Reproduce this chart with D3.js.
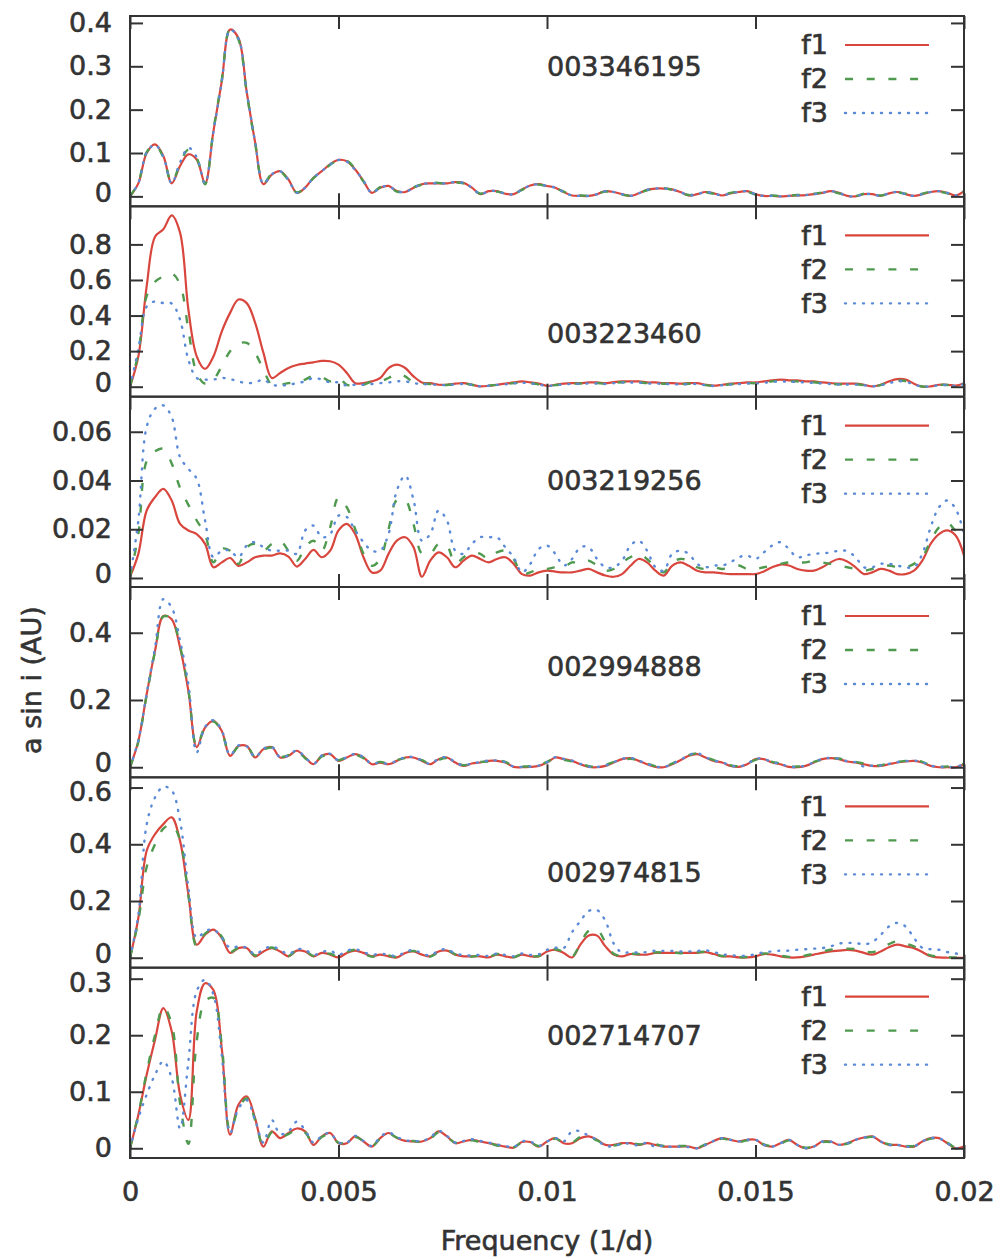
<!DOCTYPE html>
<html>
<head>
<meta charset="utf-8">
<script src="https://cdn.jsdelivr.net/npm/d3@7"></script>
<style>
  body { margin: 0; background: #fff; }
  svg { display: block; font-family: 'DejaVu Sans', sans-serif; }
  text { stroke: #333; stroke-width: 0.6px; }
</style>
</head>
<body>
<svg id="chart"></svg>
<script>
// frequency grid (1/d), step 0.0002
const freq = d3.range(101).map((i) => +(i * 0.0002).toFixed(4))

const starIds = ['003346195', '003223460', '003219256', '002994888', '002974815', '002714707']
const seriesNames = ['f1', 'f2', 'f3']
const xTicks = [0, 0.005, 0.01, 0.015, 0.02]
const yTicks = [
  [0, 0.1, 0.2, 0.3, 0.4],
  [0, 0.2, 0.4, 0.6, 0.8],
  [0, 0.02, 0.04, 0.06],
  [0, 0.2, 0.4],
  [0, 0.2, 0.4, 0.6],
  [0, 0.1, 0.2, 0.3],
]
const yMin = [-0.023, -0.056, -0.0037, -0.03, -0.035, -0.0172]
const yMax = [0.416, 1.014, 0.0744, 0.536, 0.636, 0.3195]
const idLabelY = [0.3, 0.3, 0.04, 0.3, 0.3, 0.2]

// 003346195
const p1f1 = [0, 0.03, 0.1, 0.12, 0.093, 0.03, 0.07, 0.097, 0.085, 0.03,
  0.15, 0.265, 0.385, 0.365, 0.24, 0.125, 0.028, 0.05, 0.058, 0.039,
  0.008, 0.02, 0.043, 0.058, 0.074, 0.084, 0.081, 0.062, 0.035, 0.008,
  0.02, 0.024, 0.012, 0.01, 0.02, 0.028, 0.03, 0.03, 0.03, 0.033,
  0.031, 0.02, 0.005, 0.012, 0.012, 0.006, 0.005, 0.016, 0.025, 0.028,
  0.024, 0.02, 0.01, 0.002, 0.001, 0.001, 0.005, 0.012, 0.01, 0.005,
  0.001, 0.007, 0.015, 0.018, 0.018, 0.016, 0.01, 0.002, 0.005, 0.01,
  0.007, 0.002, 0.007, 0.01, 0.012, 0.005, 0.001, 0.001, 0, 0.001,
  0.002, 0.003, 0.005, 0.008, 0.012, 0.008, 0.001, 0, 0.005, 0.005,
  0.001, 0.007, 0.01, 0.005, 0.001, 0.005, 0.01, 0.012, 0.008, 0.002,
  0.012]
const p1f2 = [0, 0.032, 0.102, 0.118, 0.09, 0.032, 0.075, 0.108, 0.088, 0.028,
  0.152, 0.268, 0.386, 0.362, 0.238, 0.123, 0.03, 0.052, 0.057, 0.037,
  0.009, 0.021, 0.042, 0.057, 0.073, 0.083, 0.082, 0.063, 0.034, 0.009,
  0.021, 0.023, 0.011, 0.011, 0.021, 0.027, 0.031, 0.031, 0.029, 0.032,
  0.03, 0.019, 0.006, 0.013, 0.011, 0.007, 0.006, 0.015, 0.024, 0.027,
  0.023, 0.019, 0.011, 0.003, 0.002, 0.002, 0.006, 0.011, 0.009, 0.004,
  0.002, 0.008, 0.014, 0.017, 0.019, 0.015, 0.009, 0.003, 0.006, 0.009,
  0.006, 0.003, 0.008, 0.011, 0.011, 0.004, 0.002, 0.002, 0.001, 0.002,
  0.003, 0.004, 0.006, 0.009, 0.011, 0.007, 0.002, 0.001, 0.006, 0.006,
  0.002, 0.006, 0.009, 0.006, 0.002, 0.006, 0.011, 0.011, 0.007, 0.003,
  0.011]
const p1f3 = [0, 0.031, 0.101, 0.119, 0.091, 0.03, 0.078, 0.112, 0.09, 0.03,
  0.148, 0.264, 0.384, 0.364, 0.241, 0.126, 0.029, 0.051, 0.058, 0.038,
  0.008, 0.02, 0.043, 0.058, 0.074, 0.084, 0.08, 0.061, 0.036, 0.008,
  0.02, 0.024, 0.012, 0.01, 0.02, 0.028, 0.03, 0.03, 0.03, 0.033,
  0.031, 0.02, 0.005, 0.012, 0.012, 0.006, 0.005, 0.016, 0.025, 0.028,
  0.024, 0.02, 0.01, 0.002, 0.001, 0.001, 0.005, 0.012, 0.01, 0.005,
  0.001, 0.007, 0.015, 0.018, 0.018, 0.016, 0.01, 0.002, 0.005, 0.01,
  0.007, 0.002, 0.007, 0.01, 0.012, 0.005, 0.001, 0.001, 0, 0.001,
  0.002, 0.003, 0.005, 0.008, 0.012, 0.008, 0.001, 0, 0.005, 0.005,
  0.001, 0.007, 0.01, 0.005, 0.001, 0.005, 0.01, 0.012, 0.008, 0.002,
  0.012]

// 003223460
const p2f1 = [0, 0.17, 0.565, 0.843, 0.885, 0.963, 0.866, 0.434, 0.171, 0.1,
  0.17, 0.31, 0.415, 0.49, 0.47, 0.36, 0.19, 0.049, 0.077, 0.105,
  0.122, 0.13, 0.137, 0.145, 0.143, 0.124, 0.077, 0.02, 0.02, 0.03,
  0.049, 0.105, 0.124, 0.105, 0.058, 0.024, 0.02, 0.011, 0.011, 0.017,
  0.02, 0.011, 0.002, 0.005, 0.011, 0.017, 0.024, 0.03, 0.024, 0.017,
  0.005, 0.011, 0.017, 0.02, 0.02, 0.024, 0.024, 0.02, 0.026, 0.03,
  0.03, 0.03, 0.024, 0.024, 0.02, 0.02, 0.017, 0.02, 0.02, 0.011,
  0.006, 0.011, 0.017, 0.02, 0.024, 0.024, 0.03, 0.036, 0.04, 0.036,
  0.036, 0.03, 0.03, 0.024, 0.02, 0.017, 0.017, 0.017, 0.011, 0.002,
  0.011, 0.03, 0.043, 0.04, 0.017, 0, 0.002, 0.011, 0.011, 0.006,
  0.02]
const p2f2 = [0, 0.19, 0.51, 0.59, 0.62, 0.637, 0.575, 0.32, 0.077, 0.017,
  0.04, 0.115, 0.2, 0.242, 0.246, 0.19, 0.096, 0.011, 0.011, 0.02,
  0.024, 0.04, 0.062, 0.055, 0.03, 0.049, 0.011, 0.006, 0.011, 0.03,
  0.03, 0.049, 0.073, 0.058, 0.024, 0.017, 0.015, 0.011, 0.01, 0.015,
  0.017, 0.011, 0.003, 0.006, 0.011, 0.015, 0.02, 0.024, 0.02, 0.013,
  0.005, 0.009, 0.014, 0.017, 0.018, 0.02, 0.02, 0.017, 0.022, 0.025,
  0.026, 0.025, 0.02, 0.02, 0.017, 0.016, 0.014, 0.017, 0.017, 0.009,
  0.005, 0.009, 0.014, 0.017, 0.02, 0.02, 0.025, 0.03, 0.033, 0.03,
  0.03, 0.026, 0.025, 0.02, 0.017, 0.014, 0.014, 0.014, 0.009, 0.002,
  0.009, 0.024, 0.034, 0.032, 0.014, 0.001, 0.003, 0.01, 0.01, 0.006,
  0.018]
const p2f3 = [0, 0.21, 0.45, 0.48, 0.47, 0.468, 0.377, 0.152, 0.049, 0.04,
  0.04, 0.049, 0.043, 0.03, 0.02, 0.024, 0.04, 0.011, 0.006, 0.011,
  0.02, 0.03, 0.049, 0.04, 0.024, 0.024, 0.006, 0.011, 0.011, 0.015,
  0.02, 0.024, 0.03, 0.03, 0.02, 0.015, 0.013, 0.01, 0.009, 0.013,
  0.015, 0.01, 0.002, 0.005, 0.01, 0.013, 0.018, 0.022, 0.018, 0.012,
  0.004, 0.008, 0.013, 0.015, 0.016, 0.018, 0.018, 0.015, 0.02, 0.023,
  0.024, 0.023, 0.018, 0.018, 0.015, 0.015, 0.012, 0.015, 0.015, 0.008,
  0.004, 0.008, 0.012, 0.015, 0.018, 0.018, 0.022, 0.027, 0.03, 0.027,
  0.027, 0.023, 0.022, 0.018, 0.015, 0.012, 0.012, 0.012, 0.008, 0.002,
  0.008, 0.02, 0.03, 0.028, 0.012, 0.001, 0.002, 0.008, 0.009, 0.005,
  0.015]

// 003219256
const p3f1 = [0.0005, 0.0099, 0.0277, 0.0332, 0.0366, 0.0318, 0.0222, 0.0195, 0.018, 0.014,
  0.0044, 0.0064, 0.0082, 0.005, 0.0064, 0.0085, 0.0092, 0.0092, 0.0101, 0.0088,
  0.0047, 0.0078, 0.0115, 0.0085, 0.0112, 0.0195, 0.0222, 0.018, 0.0085, 0.0023,
  0.003, 0.0099, 0.0153, 0.0167, 0.0126, 0.0005, 0.0071, 0.0105, 0.0085, 0.0044,
  0.0071, 0.0092, 0.0078, 0.0064, 0.0078, 0.0085, 0.0058, 0.0016, 0.001, 0.0023,
  0.003, 0.0026, 0.0023, 0.0023, 0.003, 0.0037, 0.0023, 0.001, 0.0005, 0.0016,
  0.005, 0.0078, 0.0064, 0.003, 0.001, 0.005, 0.0064, 0.005, 0.003, 0.0023,
  0.0023, 0.0019, 0.0016, 0.0016, 0.0016, 0.0016, 0.0027, 0.0044, 0.0055, 0.0051,
  0.0037, 0.003, 0.003, 0.0044, 0.0064, 0.0078, 0.0068, 0.0044, 0.0016, 0.0023,
  0.0037, 0.003, 0.0016, 0.0016, 0.003, 0.0071, 0.014, 0.018, 0.0195, 0.0174,
  0.0092]
const p3f2 = [0.0005, 0.018, 0.048, 0.052, 0.053, 0.047, 0.037, 0.03, 0.0236, 0.018,
  0.0064, 0.012, 0.0112, 0.0058, 0.0126, 0.014, 0.0112, 0.014, 0.0153, 0.0112,
  0.0071, 0.0126, 0.0153, 0.0112, 0.0208, 0.033, 0.029, 0.02, 0.0099, 0.005,
  0.0078, 0.02, 0.032, 0.032, 0.022, 0.01, 0.0099, 0.014, 0.0133, 0.0058,
  0.0085, 0.0105, 0.0099, 0.0078, 0.0105, 0.0112, 0.0078, 0.0016, 0.0023, 0.0037,
  0.0037, 0.0044, 0.0044, 0.0064, 0.0058, 0.0071, 0.0051, 0.003, 0.0037, 0.0064,
  0.0085, 0.0099, 0.0078, 0.0044, 0.0023, 0.0064, 0.0078, 0.0071, 0.0044, 0.0037,
  0.0044, 0.0037, 0.0044, 0.0051, 0.0037, 0.0037, 0.0044, 0.0051, 0.0058, 0.0064,
  0.0064, 0.0064, 0.0071, 0.0064, 0.0058, 0.0051, 0.0044, 0.0037, 0.003, 0.0037,
  0.0044, 0.0051, 0.0044, 0.0044, 0.0058, 0.0085, 0.0153, 0.0208, 0.0229, 0.0195,
  0.0195]
const p3f3 = [0.0005, 0.0236, 0.062, 0.0695, 0.0708, 0.066, 0.0496, 0.0448, 0.0407, 0.0236,
  0.0085, 0.0112, 0.0112, 0.0085, 0.0133, 0.0147, 0.0126, 0.0112, 0.0112, 0.0112,
  0.0099, 0.0195, 0.0215, 0.0167, 0.018, 0.0256, 0.025, 0.0195, 0.0147, 0.0112,
  0.0112, 0.018, 0.036, 0.042, 0.032, 0.0153, 0.018, 0.0277, 0.0236, 0.0112,
  0.0099, 0.014, 0.0167, 0.0167, 0.0167, 0.0126, 0.0085, 0.0023, 0.0058, 0.0119,
  0.0133, 0.0099, 0.0051, 0.0078, 0.0126, 0.0126, 0.0078, 0.0044, 0.0044, 0.0071,
  0.0133, 0.0153, 0.0112, 0.0044, 0.003, 0.0099, 0.0112, 0.0099, 0.0058, 0.0044,
  0.0051, 0.0051, 0.0064, 0.0085, 0.0092, 0.0078, 0.0105, 0.0133, 0.0147, 0.0119,
  0.0085, 0.0092, 0.0099, 0.0101, 0.0105, 0.0112, 0.011, 0.0085, 0.0044, 0.0044,
  0.0058, 0.0058, 0.0051, 0.0044, 0.0044, 0.0099, 0.0208, 0.029, 0.0318, 0.0284,
  0.0181]

// 002994888
const p4f1 = [0, 0.078, 0.217, 0.346, 0.45, 0.44, 0.356, 0.227, 0.06, 0.118,
  0.138, 0.108, 0.034, 0.063, 0.063, 0.029, 0.054, 0.06, 0.029, 0.034,
  0.049, 0.029, 0.009, 0.034, 0.039, 0.019, 0.029, 0.039, 0.029, 0.009,
  0.014, 0.009, 0.019, 0.029, 0.029, 0.019, 0.009, 0.024, 0.029, 0.014,
  0.004, 0.011, 0.014, 0.019, 0.019, 0.014, 0.001, 0, 0.001, 0.004,
  0.014, 0.029, 0.024, 0.019, 0.009, 0.001, 0, 0.004, 0.014, 0.024,
  0.027, 0.019, 0.009, 0.001, 0, 0.009, 0.021, 0.034, 0.039, 0.029,
  0.019, 0.014, 0.004, 0.001, 0.009, 0.024, 0.024, 0.014, 0.009, 0.001,
  0, 0.004, 0.014, 0.024, 0.027, 0.024, 0.017, 0.014, 0.009, 0.004,
  0.004, 0.009, 0.014, 0.017, 0.019, 0.014, 0.004, 0, 0, 0,
  0.009]
const p4f2 = [0, 0.076, 0.215, 0.344, 0.448, 0.442, 0.36, 0.23, 0.062, 0.12,
  0.136, 0.106, 0.036, 0.061, 0.064, 0.031, 0.052, 0.058, 0.031, 0.036,
  0.047, 0.027, 0.011, 0.032, 0.037, 0.021, 0.031, 0.037, 0.027, 0.011,
  0.016, 0.011, 0.021, 0.027, 0.027, 0.021, 0.011, 0.022, 0.027, 0.016,
  0.006, 0.013, 0.016, 0.017, 0.021, 0.016, 0.003, 0.002, 0.003, 0.006,
  0.016, 0.027, 0.022, 0.017, 0.011, 0.003, 0.002, 0.006, 0.016, 0.022,
  0.025, 0.021, 0.011, 0.003, 0.002, 0.011, 0.023, 0.036, 0.041, 0.031,
  0.021, 0.012, 0.006, 0.003, 0.011, 0.022, 0.026, 0.016, 0.011, 0.003,
  0.002, 0.006, 0.016, 0.022, 0.025, 0.026, 0.019, 0.016, 0.011, 0.006,
  0.006, 0.011, 0.016, 0.019, 0.021, 0.016, 0.006, 0.002, 0.002, 0.002,
  0.011]
const p4f3 = [0, 0.08, 0.22, 0.356, 0.5, 0.475, 0.376, 0.247, 0.044, 0.12,
  0.14, 0.11, 0.036, 0.065, 0.062, 0.03, 0.055, 0.061, 0.03, 0.035,
  0.05, 0.03, 0.01, 0.035, 0.04, 0.02, 0.03, 0.04, 0.03, 0.01,
  0.015, 0.01, 0.02, 0.03, 0.03, 0.02, 0.01, 0.025, 0.03, 0.015,
  0.005, 0.012, 0.015, 0.02, 0.02, 0.015, 0.002, 0.001, 0.002, 0.005,
  0.015, 0.03, 0.025, 0.02, 0.01, 0.002, 0.001, 0.005, 0.015, 0.025,
  0.028, 0.02, 0.01, 0.002, 0.001, 0.01, 0.022, 0.036, 0.042, 0.03,
  0.02, 0.015, 0.005, 0.002, 0.01, 0.025, 0.025, 0.015, 0.01, 0.002,
  0.001, 0.005, 0.015, 0.025, 0.028, 0.025, 0.018, 0.015, 0.002, 0.005,
  0.005, 0.01, 0.015, 0.018, 0.02, 0.015, 0.005, 0.001, 0.001, 0.001,
  0.01]

// 002974815
const p5f1 = [0, 0.14, 0.377, 0.436, 0.471, 0.495, 0.412, 0.223, 0.046, 0.081,
  0.099, 0.07, 0.017, 0.034, 0.034, 0.005, 0.022, 0.034, 0.022, 0.005,
  0.025, 0.022, 0.005, 0.017, 0.011, 0.001, 0.017, 0.025, 0.017, 0.005,
  0.011, 0.005, 0.001, 0.017, 0.022, 0.011, 0.005, 0.022, 0.025, 0.011,
  0.005, 0.005, 0.005, 0.001, 0.011, 0.005, 0.001, 0.011, 0.005, 0.005,
  0.022, 0.028, 0.017, 0.001, 0.046, 0.078, 0.078, 0.04, 0.011, 0.005,
  0.013, 0.011, 0.011, 0.017, 0.017, 0.017, 0.017, 0.017, 0.017, 0.02,
  0.013, 0.005, 0.005, 0.001, 0.001, 0.005, 0.013, 0.011, 0.005, 0.001,
  0.001, 0.005, 0.011, 0.017, 0.022, 0.025, 0.028, 0.025, 0.017, 0.011,
  0.022, 0.037, 0.046, 0.04, 0.034, 0.02, 0.005, 0.001, 0, 0,
  0]
const p5f2 = [0, 0.13, 0.32, 0.4, 0.455, 0.47, 0.415, 0.22, 0.04, 0.085,
  0.1, 0.075, 0.02, 0.035, 0.032, 0.008, 0.025, 0.036, 0.02, 0.006,
  0.027, 0.025, 0.006, 0.015, 0.014, 0.003, 0.02, 0.028, 0.015, 0.004,
  0.012, 0.008, 0.003, 0.019, 0.024, 0.012, 0.004, 0.02, 0.027, 0.012,
  0.006, 0.004, 0.007, 0.003, 0.013, 0.008, 0.002, 0.013, 0.006, 0.006,
  0.02, 0.03, 0.02, 0.004, 0.05, 0.095, 0.1, 0.055, 0.014, 0.007,
  0.014, 0.013, 0.012, 0.019, 0.018, 0.019, 0.016, 0.018, 0.019, 0.021,
  0.014, 0.006, 0.006, 0.002, 0.003, 0.006, 0.015, 0.013, 0.007, 0.003,
  0.003, 0.008, 0.014, 0.022, 0.028, 0.03, 0.032, 0.03, 0.022, 0.02,
  0.03, 0.048, 0.058, 0.05, 0.04, 0.022, 0.008, 0.004, 0.002, 0.001,
  0.001]
const p5f3 = [0, 0.15, 0.47, 0.565, 0.603, 0.59, 0.483, 0.247, 0.07, 0.093,
  0.1, 0.07, 0.035, 0.04, 0.035, 0.012, 0.03, 0.04, 0.028, 0.012,
  0.03, 0.028, 0.01, 0.02, 0.025, 0.01, 0.025, 0.03, 0.02, 0.01,
  0.015, 0.01, 0.006, 0.02, 0.028, 0.015, 0.008, 0.025, 0.03, 0.015,
  0.009, 0.008, 0.01, 0.006, 0.015, 0.01, 0.005, 0.015, 0.01, 0.012,
  0.028, 0.035, 0.034, 0.09, 0.129, 0.165, 0.168, 0.13, 0.05, 0.018,
  0.02, 0.018, 0.02, 0.025, 0.024, 0.024, 0.022, 0.022, 0.024, 0.026,
  0.02, 0.012, 0.01, 0.006, 0.008, 0.012, 0.02, 0.022, 0.025, 0.025,
  0.028, 0.03, 0.032, 0.034, 0.04, 0.05, 0.052, 0.052, 0.047, 0.055,
  0.08, 0.11, 0.123, 0.11, 0.07, 0.035, 0.03, 0.028, 0.02, 0.015,
  0.01]

// 002714707
const p6f1 = [0, 0.059, 0.13, 0.192, 0.248, 0.207, 0.095, 0.05, 0.242, 0.292,
  0.28, 0.177, 0.024, 0.077, 0.092, 0.053, 0.003, 0.03, 0.018, 0.027,
  0.035, 0.03, 0.006, 0.021, 0.027, 0.009, 0.009, 0.021, 0.012, 0.003,
  0.018, 0.027, 0.018, 0.013, 0.012, 0.012, 0.018, 0.03, 0.021, 0.009,
  0.012, 0.015, 0.012, 0.009, 0.006, 0.003, 0.001, 0.011, 0.011, 0.003,
  0.012, 0.018, 0.009, 0.009, 0.018, 0.021, 0.015, 0.006, 0.006, 0.009,
  0.009, 0.006, 0.009, 0.006, 0.003, 0.003, 0.003, 0.003, 0, 0.006,
  0.013, 0.018, 0.015, 0.012, 0.015, 0.015, 0.006, 0.003, 0.009, 0.015,
  0.006, 0, 0.003, 0.012, 0.012, 0.006, 0.009, 0.015, 0.019, 0.021,
  0.012, 0.006, 0.006, 0.003, 0.003, 0.012, 0.018, 0.018, 0.009, 0,
  0.003]
const p6f2 = [0, 0.06, 0.135, 0.2, 0.25, 0.22, 0.08, 0.008, 0.19, 0.26,
  0.266, 0.183, 0.03, 0.07, 0.088, 0.05, 0.005, 0.028, 0.02, 0.025,
  0.033, 0.028, 0.008, 0.02, 0.025, 0.01, 0.01, 0.02, 0.013, 0.004,
  0.017, 0.025, 0.019, 0.012, 0.013, 0.011, 0.017, 0.028, 0.02, 0.01,
  0.011, 0.014, 0.011, 0.01, 0.005, 0.004, 0.002, 0.01, 0.01, 0.004,
  0.011, 0.017, 0.01, 0.01, 0.02, 0.02, 0.014, 0.007, 0.005, 0.008,
  0.01, 0.007, 0.008, 0.007, 0.004, 0.004, 0.004, 0.004, 0.001, 0.007,
  0.012, 0.017, 0.014, 0.011, 0.014, 0.014, 0.007, 0.004, 0.008, 0.014,
  0.007, 0.001, 0.004, 0.011, 0.011, 0.007, 0.008, 0.014, 0.018, 0.02,
  0.011, 0.007, 0.005, 0.004, 0.004, 0.011, 0.017, 0.017, 0.01, 0.001,
  0.004]
const p6f3 = [0, 0.053, 0.095, 0.13, 0.154, 0.124, 0.035, 0.154, 0.278, 0.298,
  0.272, 0.165, 0.027, 0.07, 0.085, 0.05, 0.01, 0.05, 0.025, 0.03,
  0.047, 0.032, 0.01, 0.022, 0.027, 0.01, 0.01, 0.022, 0.013, 0.004,
  0.02, 0.028, 0.02, 0.014, 0.013, 0.013, 0.019, 0.031, 0.022, 0.01,
  0.013, 0.016, 0.013, 0.01, 0.007, 0.004, 0.002, 0.012, 0.012, 0.004,
  0.012, 0.018, 0.012, 0.03, 0.03, 0.022, 0.015, 0.004, 0.004, 0.008,
  0.008, 0.005, 0.01, 0.002, 0.005, 0.002, 0.003, 0.002, 0, 0.006,
  0.013, 0.018, 0.015, 0.012, 0.015, 0.015, 0.006, 0.003, 0.009, 0.015,
  0.006, 0, 0.003, 0.012, 0.012, 0.006, 0.009, 0.015, 0.019, 0.021,
  0.012, 0.006, 0.006, 0.003, 0.003, 0.012, 0.018, 0.018, 0.009, 0,
  0.003]

const panelSeries = [
  [p1f1, p1f2, p1f3],
  [p2f1, p2f2, p2f3],
  [p3f1, p3f2, p3f3],
  [p4f1, p4f2, p4f3],
  [p5f1, p5f2, p5f3],
  [p6f1, p6f2, p6f3],
]

const seriesColors = ['#d8463e', '#4f9a4f', '#5b8ad6']
const seriesDash = [null, '8,13.7', '1,8']
const axisColor = '#333'

const getConfig = () => {
  const width = 1005
  const height = 1259
  const margin = { top: 16, left: 130, right: 41, bottom: 101 }
  const bodyWidth = width - margin.left - margin.right
  const panelHeight = (height - margin.top - margin.bottom) / starIds.length
  const container = d3.select('#chart').attr('width', width).attr('height', height)
  return { width, height, margin, bodyWidth, panelHeight, container }
}

const drawPanel = (config, xScale, index) => {
  const { margin, bodyWidth, panelHeight, container } = config
  const top = margin.top + index * panelHeight
  const isLast = index === starIds.length - 1
  const yScale = d3.scaleLinear()
    .domain([yMin[index], yMax[index]])
    .range([panelHeight, 0])

  const body = container.append('g')
    .attr('id', 'panel' + index)
    .attr('transform', `translate(${margin.left},${top})`)

  body.append('clipPath')
    .attr('id', 'clip' + index)
    .append('rect')
    .attr('width', bodyWidth)
    .attr('height', panelHeight)

  const line = d3.line()
    .x((d, i) => xScale(freq[i]))
    .y((d) => yScale(d))
    .curve(d3.curveCatmullRom.alpha(0.5))

  const curves = body.append('g').attr('clip-path', `url(#clip${index})`)
  panelSeries[index].forEach((values, k) => {
    curves.append('path')
      .datum(values)
      .attr('d', line)
      .attr('fill', 'none')
      .attr('stroke', seriesColors[k])
      .attr('stroke-width', k === 0 ? 2.2 : 2.4)
      .attr('stroke-linecap', k === 2 ? 'round' : 'butt')
      .attr('stroke-dasharray', seriesDash[k])
  })

  // axes, ticks pointing inward
  const tickFmt = (d) => String(d)
  const yAxis = body.append('g')
    .call(d3.axisLeft(yScale).tickValues(yTicks[index]).tickSize(-13).tickPadding(18).tickFormat(tickFmt))
  // labels on a shared panel edge are pushed apart a little
  yAxis.selectAll('.tick text')
    .attr('transform', (d) => {
      if (d === 0 && !isLast) return 'translate(0,-4)'
      if (yScale(d) < 14 && index > 0) return 'translate(0,4)'
      return null
    })
  body.append('g')
    .attr('transform', `translate(${bodyWidth},0)`)
    .call(d3.axisRight(yScale).tickValues(yTicks[index]).tickSize(-13).tickFormat(''))
  body.append('g')
    .call(d3.axisTop(xScale).tickValues(xTicks).tickSize(-13).tickFormat(''))
  body.append('g')
    .attr('transform', `translate(0,${panelHeight})`)
    .call(d3.axisBottom(xScale).tickValues(xTicks).tickSize(-13).tickPadding(24)
      .tickFormat(isLast ? tickFmt : ''))

  body.selectAll('.domain').remove()
  body.selectAll('.tick line').attr('stroke', axisColor).attr('stroke-width', 2)
  body.selectAll('.tick text')
    .attr('fill', axisColor)
    .style('font', '27px "DejaVu Sans", sans-serif')

  body.append('rect')
    .attr('width', bodyWidth)
    .attr('height', panelHeight)
    .attr('fill', 'none')
    .attr('stroke', axisColor)
    .attr('stroke-width', 2)

  // star id
  body.append('text')
    .attr('x', xScale(0.01))
    .attr('y', yScale(idLabelY[index]))
    .attr('dy', '0.35em')
    .attr('fill', axisColor)
    .style('font-size', '27px')
    .text(starIds[index])

  // legend
  seriesNames.forEach((name, k) => {
    const ly = 29 + k * 34
    body.append('text')
      .attr('x', 698)
      .attr('y', ly)
      .attr('dy', '0.35em')
      .attr('text-anchor', 'end')
      .attr('fill', axisColor)
      .style('font-size', '27px')
      .text(name)
    body.append('line')
      .attr('x1', 715)
      .attr('x2', 799)
      .attr('y1', ly)
      .attr('y2', ly)
      .attr('stroke', seriesColors[k])
      .attr('stroke-width', k === 0 ? 2.2 : 2.4)
      .attr('stroke-linecap', k === 2 ? 'round' : 'butt')
      .attr('stroke-dasharray', seriesDash[k])
  })
}

const drawChart = () => {
  const config = getConfig()
  const { margin, bodyWidth, container } = config
  const xScale = d3.scaleLinear().domain([0, 0.02]).range([0, bodyWidth])

  starIds.forEach((id, index) => drawPanel(config, xScale, index))

  container.append('text')
    .attr('x', margin.left + bodyWidth / 2)
    .attr('y', 1250)
    .attr('text-anchor', 'middle')
    .attr('fill', axisColor)
    .style('font-size', '27px')
    .text('Frequency (1/d)')

  container.append('text')
    .attr('transform', 'translate(41,680) rotate(-90)')
    .attr('text-anchor', 'middle')
    .attr('fill', axisColor)
    .style('font-size', '27px')
    .text('a sin i (AU)')
}

drawChart()
</script>
</body>
</html>
